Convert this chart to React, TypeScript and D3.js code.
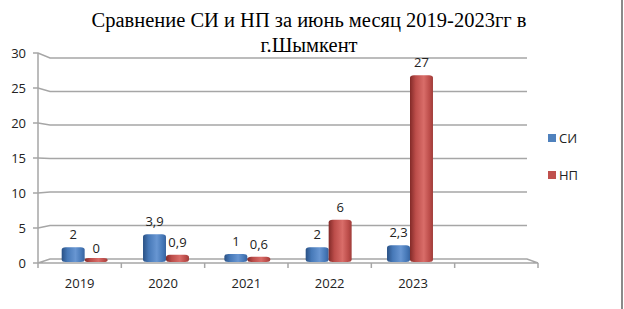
import React from "react";
import * as d3 from "d3";

const categories = ["2019", "2020", "2021", "2022", "2023"];
const slots = [...categories, ""];
const seriesNames = ["СИ", "НП"];
const siValues = [2, 3.9, 1, 2, 2.3];
const npValues = [0, 0.9, 0.6, 6, 27];
const yTicks = [0, 5, 10, 15, 20, 25, 30];
const titleLines = ["Сравнение СИ и НП за июнь месяц 2019-2023гг в", "г.Шымкент"];

const W = 624;
const H = 309;

const colors = {
  СИ: { dark: "#2a5185", mid: "#4779b8", light: "#6896d2", edge: "#3864a0", legend: "#4f81bd" },
  НП: { dark: "#822a28", mid: "#bc4d4a", light: "#d96d69", edge: "#9f3c39", legend: "#c0504d" },
} as Record<string, any>;

const fmt = (v: number) => String(v).replace(".", ",");

export default function App() {
  // front plane
  const xFront = d3.scaleBand<string>().domain(slots).range([38, 538]);
  const yFront = d3.scaleLinear().domain([0, 30]).range([263, 53]);
  // back plane (perspective)
  const horizon = 170;
  const k = 0.957;
  const yBack = (v: number) => horizon + (yFront(v) - horizon) * k;
  const xBackL = 50;
  const xBackR = 527;
  // bars plane (middle depth)
  const xBar = d3.scaleBand<string>().domain(slots).range([44, 532]).paddingInner(0.435).paddingOuter(0.2175);
  const xSub = d3.scaleBand<string>().domain(seriesNames).range([0, xBar.bandwidth()]);
  const yBar = d3.scaleLinear().domain([0, 30]).range([261, 54.5]);

  const data = categories.flatMap((c, i) => [
    { cat: c, s: "СИ", v: siValues[i] },
    { cat: c, s: "НП", v: npValues[i] },
  ]);

  const grid = "#a6a6a6";
  const font = "'Open Sans', 'Noto Sans', sans-serif";

  return (
    <svg width={W} height={H} style={{ position: "absolute", left: 0, top: 0, background: "#fff" }}>
      <defs>
        {seriesNames.map((s, i) => (
          <linearGradient key={s} id={`g${i}`} x1="0" x2="1" y1="0" y2="0">
            <stop offset="0" stopColor={colors[s].dark} />
            <stop offset="0.25" stopColor={colors[s].mid} />
            <stop offset="0.6" stopColor={colors[s].light} />
            <stop offset="0.85" stopColor={colors[s].mid} />
            <stop offset="1" stopColor={colors[s].edge} />
          </linearGradient>
        ))}
      </defs>
      <rect x={0} y={0} width={W} height={H} fill="#fff" />
      <line x1={622} x2={622} y1={0} y2={H} stroke="#8a8a8a" strokeWidth={2} />

      {/* title */}
      {titleLines.map((t, i) => (
        <text
          key={i}
          x={309}
          y={27 + i * 25}
          textAnchor="middle"
          fontFamily="'Liberation Serif', 'Times New Roman', serif"
          fontSize={20.5}
          fill="#000"
        >
          {t}
        </text>
      ))}

      {/* gridlines with side-wall diagonal */}
      {yTicks.filter((v) => v > 0).map((v) => (
        <path
          key={v}
          d={`M33,${yFront(v)} L38,${yFront(v)} L${xBackL},${yBack(v)} L${xBackR},${yBack(v)}`}
          fill="none"
          stroke={grid}
          strokeWidth={1.5}
        />
      ))}
      {/* floor */}
      <path
        d={`M33,${yFront(0)} L${xFront.range()[1]},${yFront(0)} L${xBackR},${yBack(0)} L${xBackL},${yBack(0)} L38,${yFront(0)}`}
        fill="none"
        stroke={grid}
        strokeWidth={1.5}
      />
      {/* vertical axis */}
      <line x1={38} x2={38} y1={yFront(30)} y2={yFront(0) + 5} stroke={grid} strokeWidth={1.5} />
      {/* category ticks */}
      {slots.map((s) => (
        <line
          key={"t" + s}
          x1={(xFront(s) as number) + xFront.bandwidth()}
          x2={(xFront(s) as number) + xFront.bandwidth()}
          y1={yFront(0)}
          y2={yFront(0) + 5}
          stroke={grid}
          strokeWidth={1.5}
        />
      ))}

      {/* y labels */}
      {yTicks.map((v) => (
        <text key={"y" + v} x={26} y={yFront(v) + 5} textAnchor="end" fontFamily={font} fontSize={13} fill="#222">
          {v}
        </text>
      ))}
      {/* x labels */}
      {categories.map((c) => (
        <text
          key={"x" + c}
          x={(xFront(c) as number) + xFront.bandwidth() / 2}
          y={288}
          textAnchor="middle"
          fontFamily={font}
          fontSize={13}
          fill="#222"
        >
          {c}
        </text>
      ))}

      {/* bars */}
      {data.map((d) => {
        const x = (xBar(d.cat) as number) + (xSub(d.s) as number);
        const w = xSub.bandwidth();
        const top = Math.min(yBar(d.v), yBar(0) - 3);
        const h = yBar(0) - top + 1;
        const gi = seriesNames.indexOf(d.s);
        return (
          <g key={d.cat + d.s}>
            <rect x={x} y={top} width={w} height={h} rx={4} ry={2.5} fill={`url(#g${gi})`} />
            <text
              x={x + w / 2}
              y={yBar(d.v) - 8}
              textAnchor="middle"
              fontFamily={font}
              fontSize={13}
              fill="#222"
            >
              {fmt(d.v)}
            </text>
          </g>
        );
      })}

      {/* legend */}
      {seriesNames.map((s, i) => (
        <g key={"l" + s}>
          <rect x={548} y={134 + i * 37} width={8} height={8} fill={colors[s].legend} />
          <text x={559} y={143 + i * 37} fontFamily={font} fontSize={13} fill="#222">
            {s}
          </text>
        </g>
      ))}
    </svg>
  );
}
